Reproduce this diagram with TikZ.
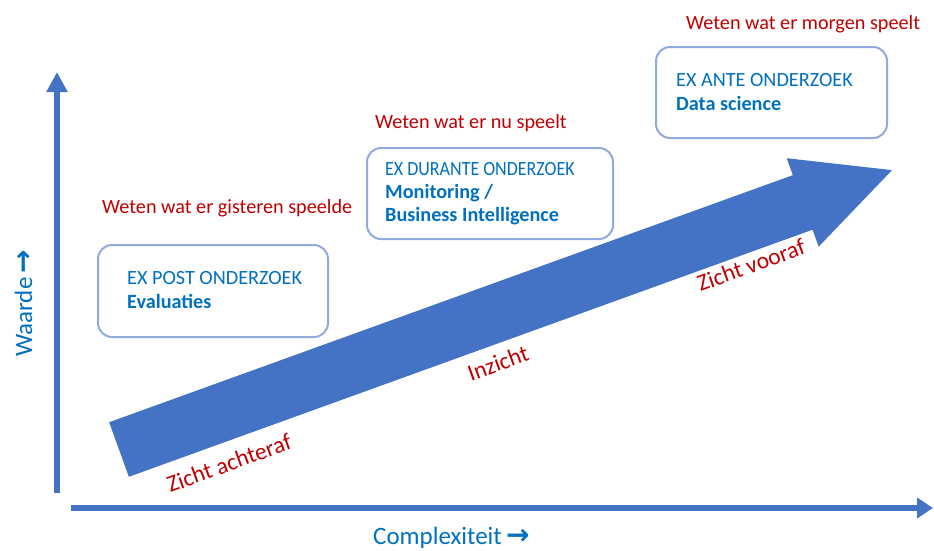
\documentclass[tikz,border=0pt]{standalone}
\usepackage{fontspec}
\setmainfont{Carlito}
\newfontfamily\arrowfont{DejaVu Sans}
\usetikzlibrary{arrows.meta}
\definecolor{axisblue}{HTML}{4472C4}
\definecolor{boxline}{HTML}{8FAADC}
\definecolor{txtblue}{HTML}{0070C0}
\definecolor{darkred}{HTML}{C00000}
\begin{document}
\begin{tikzpicture}[x=1pt,y=-1pt,
  axisline/.style={draw=axisblue, line width=6pt, -{Triangle[length=20pt,width=20pt]}},
  axisline2/.style={draw=axisblue, line width=6pt, -{Triangle[length=16pt,width=20pt]}},
  card/.style={draw=boxline, line width=2pt, rounded corners=14pt, fill=white, inner sep=0pt},
  redlbl/.style={text=darkred, font=\fontsize{20.2}{24}\selectfont, inner sep=0pt, anchor=base west},
  arrowlbl/.style={text=darkred, font=\fontsize{23.5}{28}\selectfont, inner sep=0pt, rotate=19.87},
  boxhead/.style={text=txtblue, font=\fontsize{20.2}{24}\selectfont, inner sep=0pt, anchor=base west},
  boxsub/.style={text=txtblue, font=\fontsize{20.2}{24}\selectfont\bfseries, inner sep=0pt, anchor=base west},
  axislbl/.style={text=txtblue, font=\fontsize{25}{30}\selectfont, inner sep=0pt, anchor=base west}
]
\useasboundingbox (0,0) rectangle (934,550);
\fill[white] (0,0) rectangle (934,550);

% axes
\coordinate (yfoot) at (57,493);
\coordinate (ytop) at (57,72);
\coordinate (xfoot) at (71,508);
\coordinate (xend) at (933,508);
\draw[axisline] (yfoot) -- (ytop);
\draw[axisline2] (xfoot) -- (xend);

\node[axislbl, rotate=90] (ylab) at (32,357) {Waarde\,{\arrowfont\bfseries\fontsize{28}{30}\selectfont →}};
\node[axislbl] (xlab) at (373,544) {Complexiteit\,{\arrowfont\bfseries\fontsize{28}{30}\selectfont →}};

% big arrow
\begin{scope}[shift={(119,449.5)}, rotate=19.87]
  \fill[axisblue] (0,-29) -- (727,-29) -- (727,-47) -- (822,0) -- (727,47) -- (727,29) -- (0,29) -- cycle;
\end{scope}

\node[arrowlbl] (l1) at (229,463) {Zicht achteraf};
\node[arrowlbl] (l2) at (498,363) {Inzicht};
\node[arrowlbl] (l3) at (751,265) {Zicht vooraf};

% boxes
\node[card, minimum width=230pt, minimum height=92pt] (b1) at (213,291) {};
\node[card, minimum width=246pt, minimum height=91pt] (b2) at (490,193.5) {};
\node[card, minimum width=231pt, minimum height=91pt] (b3) at (771.5,92.5) {};

\node[boxhead] (b1a) at (127,284) {EX POST ONDERZOEK};
\node[boxsub] (b1b) at (127,308) {Evaluaties};

\node[boxhead] (b2a) at (385,175) {\scalebox{0.89}[1]{EX DURANTE ONDERZOEK}};
\node[boxsub] (b2b) at (385,198) {Monitoring /};
\node[boxsub] (b2c) at (385,221) {Business Intelligence};

\node[boxhead] (b3a) at (676,86) {EX ANTE ONDERZOEK};
\node[boxsub] (b3b) at (676,110) {Data science};

% red labels
\node[redlbl] (r1) at (102,213) {Weten wat er gisteren speelde};
\node[redlbl] (r2) at (375,128) {Weten wat er nu speelt};
\node[redlbl] (r3) at (686,29) {Weten wat er morgen speelt};
\end{tikzpicture}
\end{document}
